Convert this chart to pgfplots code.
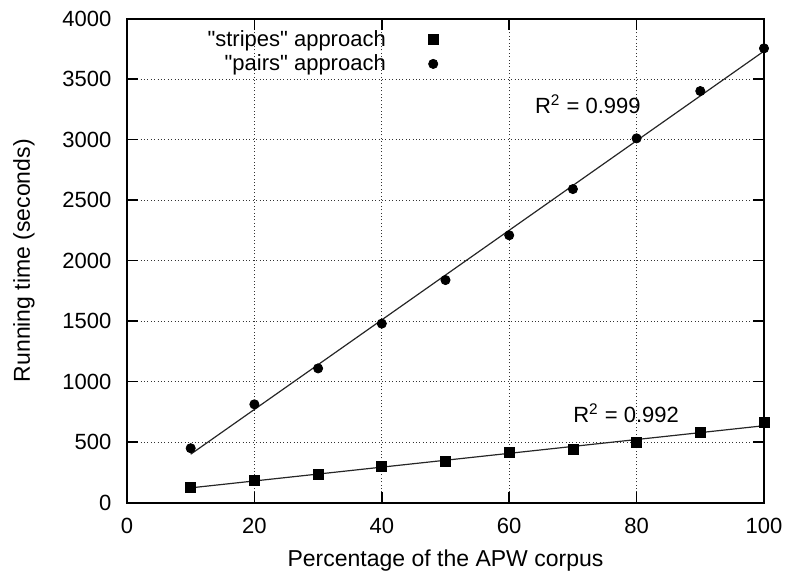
\documentclass[border=0pt]{standalone}
\usepackage{fontspec}
\setmainfont{Liberation Sans}
\usepackage{pgfplots}
\usepackage{pgfplotstable}
\pgfplotsset{compat=1.18}

% legend: mark sits right of the text, one mark per entry
\pgfplotsset{marklegend/.style={legend image code/.code={%
  \path (0pt,0pt) (26pt,0pt);
  \draw[##1] plot coordinates {(23pt,0pt)};}}}

% running time (s) against share of the corpus
\pgfplotstableread{
x y
10 127
20 188
30 237
40 298
50 339
60 416
70 444
80 499
90 582
100 664
}\stripes

\pgfplotstableread{
x y
10 450
20 813
30 1110
40 1480
50 1840
60 2210
70 2592
80 3011
90 3402
100 3755
}\pairs

\begin{document}
\fontsize{11}{13}\selectfont
\begin{tikzpicture}
  \begin{axis}[
    name=ax,
    scale only axis,
    width=318.5pt, height=242pt,
    xmin=0, xmax=100, ymin=0, ymax=4000,
    xtick={0,20,...,100}, ytick={0,500,...,4000},
    grid=major,
    major grid style={black!80, line width=0.5pt, dash pattern=on 0.5pt off 1.2pt},
    axis line style={line width=1pt},
    tick style={line width=0.8pt, black},
    major tick length=5.5pt,
    tick align=inside,
    /pgf/number format/assume math mode=true,
    /pgf/number format/set thousands separator={},
    yticklabel style={xshift=-4pt},
    xticklabel style={yshift=-4pt},
    xlabel={Percentage of the APW corpus},
    ylabel={Running time (seconds)},
    every axis x label/.style={at={(axis description cs:0.5,-0.1322)}, anchor=base, font=\fontsize{11.5}{13}\selectfont},
    every axis y label/.style={at={(axis description cs:-0.1523,0.5)}, anchor=base, rotate=90, font=\fontsize{11.5}{13}\selectfont},
    legend plot pos=right,
    legend cell align=right,
    legend style={draw=none, fill=none, at={(0.4914,0.979)}, anchor=north east,
      inner sep=0pt, nodes={inner sep=0.5pt}, row sep=1.4pt},
  ]
    \addplot[black!85, line width=0.6pt, forget plot]
      table[x=x, y={create col/linear regression={y=y}}] {\pairs};
    \addplot[black!85, line width=0.6pt, forget plot]
      table[x=x, y={create col/linear regression={y=y}}] {\stripes};
    \addplot[only marks, mark=square*, mark size=2.5pt, mark options={draw=black, fill=black}, marklegend]
      table[x=x, y=y] {\stripes};
    \addlegendentry{\textquotedbl stripes\textquotedbl{} approach}
    \addplot[only marks, mark=*, mark size=2.3pt, mark options={draw=black, fill=black}, marklegend]
      table[x=x, y=y] {\pairs};
    \addlegendentry{\textquotedbl pairs\textquotedbl{} approach}
    \node[anchor=base west, inner sep=0pt] at (axis cs:64,3218) {R\textsuperscript{2} = 0.999};
    \node[anchor=base west, inner sep=0pt] at (axis cs:70,661) {R\textsuperscript{2} = 0.992};
  \end{axis}
  \pgfresetboundingbox
  \path ([shift={(-63.5pt,-34.65pt)}]ax.south west) rectangle ([shift={(12pt,9.35pt)}]ax.north east);
\end{tikzpicture}
\end{document}
